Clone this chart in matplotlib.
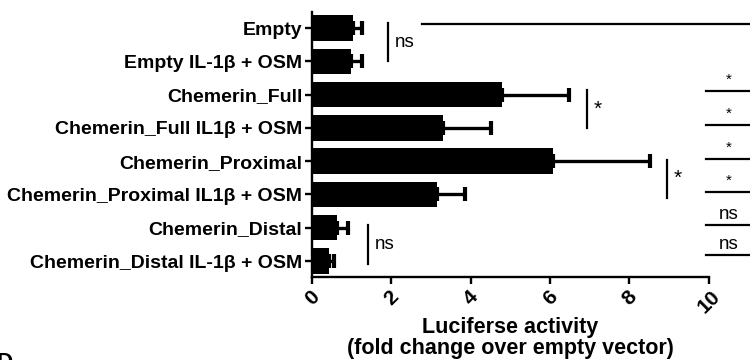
import numpy as np
import matplotlib
matplotlib.use('Agg')
import matplotlib.pyplot as plt

plt.rcParams['font.family'] = ['Liberation Sans', 'DejaVu Sans']

# bar labels, top to bottom
groups = ['Empty', 'Empty IL-1β + OSM', 'Chemerin_Full', 'Chemerin_Full IL1β + OSM',
          'Chemerin_Proximal', 'Chemerin_Proximal IL1β + OSM', 'Chemerin_Distal',
          'Chemerin_Distal IL-1β + OSM']
means = [1.03, 0.98, 4.79, 3.30, 6.07, 3.15, 0.63, 0.43]
errs = [0.24, 0.27, 1.68, 1.21, 2.44, 0.70, 0.28, 0.13]
xticks = [0, 2, 4, 6, 8, 10]

# significance marks: right-hand column (label, y)
right_marks = [('*', 1.89), ('*', 2.91), ('*', 3.93), ('*', 4.92), ('ns', 5.92), ('ns', 6.82)]
# pairwise brackets: (x, y0, y1, label)
pair_marks = [(1.91, -0.15, 1.0, 'ns'), (6.93, 1.86, 3.0, '*'),
              (8.94, 3.96, 5.1, '*'), (1.41, 5.92, 7.09, 'ns')]

fig = plt.figure(figsize=(7.5, 3.6), dpi=100)
ax = fig.add_axes([0.416, 0.2306, 0.529, 0.736])

y = np.arange(len(groups))
ax.barh(y, means, height=0.76, color='black')
ax.errorbar(means, y, xerr=[np.zeros(len(errs)), errs], fmt='none', ecolor='black',
            elinewidth=2.4, capsize=5, capthick=3)

ax.set_xlim(0, 10)
ax.set_ylim(7.48, -0.48)
ax.set_yticks(y)
ax.set_yticklabels(groups, fontsize=14, fontweight='bold')
ax.set_xticks(xticks)
ax.set_xticklabels([str(t) for t in xticks], rotation=45, fontsize=15, fontweight='bold',
                   ha='center', va='top')
for s in ['top', 'right']:
    ax.spines[s].set_visible(False)
for s in ['left', 'bottom']:
    ax.spines[s].set_linewidth(1.7)
ax.tick_params(width=1.7, length=5, pad=2)
ax.set_xlabel('Luciferse activity\n(fold change over empty vector)', fontsize=15.5,
              fontweight='bold', labelpad=0, linespacing=1.05)

# long line at the top
ax.plot([2.77, 11.1], [-0.12, -0.12], color='black', lw=1.6, clip_on=False)

for lab, yy in right_marks:
    ax.plot([9.92, 11.1], [yy, yy], color='black', lw=1.6, clip_on=False)
    if lab == '*':
        ax.text(10.5, yy - 0.12, lab, fontsize=11, ha='center', va='bottom')
    else:
        ax.text(10.5, yy - 0.06, lab, fontsize=13.5, ha='center', va='bottom')

for xx, y0, y1, lab in pair_marks:
    ax.plot([xx, xx], [y0, y1], color='black', lw=1.6, clip_on=False)
    ax.text(xx + 0.18, (y0 + y1) / 2, lab, fontsize=15 if lab == '*' else 13.5,
            ha='left', va='center')

fig.text(-0.004, -0.035, 'D', fontsize=16, fontweight='bold', ha='left', va='bottom')

fig.savefig('out.png', dpi=100)
